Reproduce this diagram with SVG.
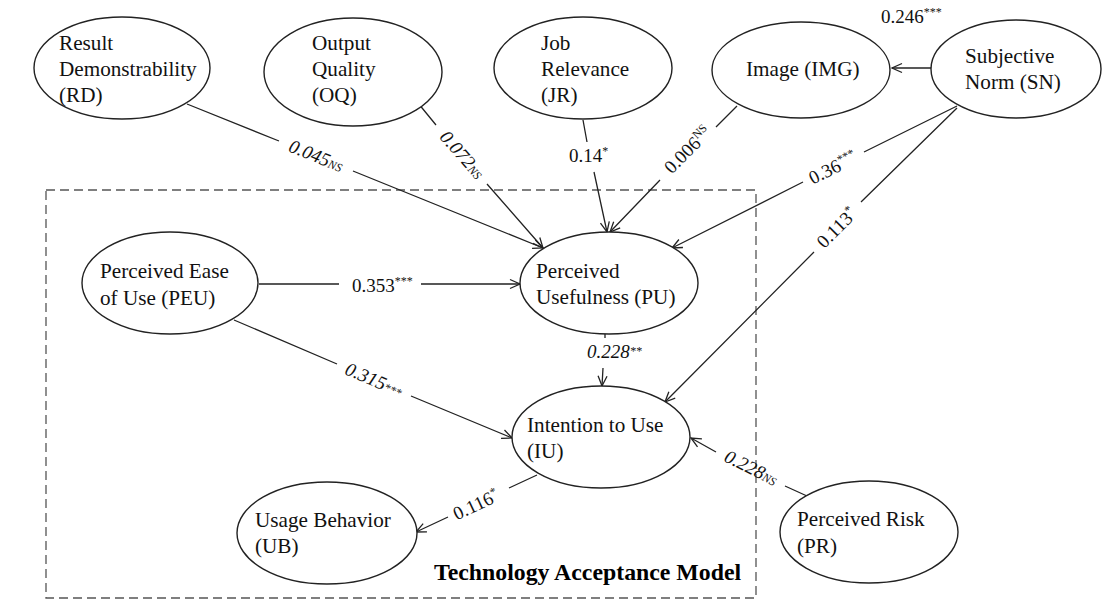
<svg xmlns="http://www.w3.org/2000/svg" width="1108" height="600" viewBox="0 0 1108 600">
  <defs>
    <marker id="arrow" markerUnits="userSpaceOnUse" markerWidth="14" markerHeight="12" refX="11" refY="6" orient="auto">
      <path d="M1,1.5 L11,6 L1,10.5" fill="none" stroke="#222" stroke-width="1.3"/>
    </marker>
    <style>
      .node ellipse { fill: #fff; stroke: #222; stroke-width: 1.4; }
      .node text { font-family: "Liberation Serif", "Times New Roman", serif; font-size: 21.2px; fill: #111; }
      .edge { fill: none; stroke: #222; stroke-width: 1.3; }
      .lbl { font-family: "Liberation Serif", "Times New Roman", serif; font-size: 19px; fill: #111; }
      .it { font-style: italic; }
      .sup { font-size: 12px; }
      .mid { text-anchor: middle; }
      .frame { fill: none; stroke: #555; stroke-width: 1.3; stroke-dasharray: 9 5; }
      .title { font-family: "Liberation Serif", "Times New Roman", serif; font-size: 23.8px; font-weight: bold; fill: #000; }
    </style>
  </defs>

  <rect fill="#fff" x="0" y="0" width="1108" height="600"/>

  <!-- TAM boundary -->
  <rect class="frame" x="46" y="190" width="710" height="408"/>
  <text class="title" x="434" y="580">Technology Acceptance Model</text>

  <!-- connectors -->
  <g id="connectors">
    <path class="edge" d="M187,104 L279,141 M353,171 L543,248" marker-end="url(#arrow)"/>
    <path class="edge" d="M418,103 L436,125 M487,184 L543,248" marker-end="url(#arrow)"/>
    <path class="edge" d="M583,120 L587,142 M594,172 L607,232" marker-end="url(#arrow)"/>
    <path class="edge" d="M737,106 L716,127 M660,180 L610,232" marker-end="url(#arrow)"/>
    <path class="edge" d="M957,106 L864,152 M803,182 L672,248" marker-end="url(#arrow)"/>
    <path class="edge" d="M957,108 L861,202 M814,252 L665,402" marker-end="url(#arrow)"/>
    <path class="edge" d="M933,68 L892,68" marker-end="url(#arrow)"/>
    <path class="edge" d="M259,284 L339,284 M421,284 L520,284" marker-end="url(#arrow)"/>
    <path class="edge" d="M234,320 L337,364 M411,396 L512,438" marker-end="url(#arrow)"/>
    <path class="edge" d="M605,334 L605,338 M603,368 L602,386" marker-end="url(#arrow)"/>
    <path class="edge" d="M807,496 L785,486 M716,452 L691,438" marker-end="url(#arrow)"/>
    <path class="edge" d="M537,475 L509,488 M448,517 L416,532" marker-end="url(#arrow)"/>

    <!-- path coefficients -->
    <text class="lbl" x="881" y="23">0.246<tspan class="sup" dy="-7">***</tspan></text>
    <text class="lbl" x="352" y="292">0.353<tspan class="sup" dy="-7">***</tspan></text>
    <text class="lbl" x="569" y="162">0.14<tspan class="sup" dy="-7">*</tspan></text>
    <text class="lbl it" x="587" y="358">0.228<tspan class="sup" dy="-3">**</tspan></text>
    <text class="lbl it mid" transform="translate(316,156) rotate(22)" y="6">0.045<tspan class="sup">NS</tspan></text>
    <text class="lbl it mid" transform="translate(462,155) rotate(49)" y="6">0.072<tspan class="sup">NS</tspan></text>
    <text class="lbl mid" transform="translate(688,150) rotate(-45)" y="6">0.006<tspan class="sup" dy="-7">NS</tspan></text>
    <text class="lbl mid" transform="translate(833,168) rotate(-26.5)" y="6">0.36<tspan class="sup" dy="-7">***</tspan></text>
    <text class="lbl mid" transform="translate(837,228) rotate(-45)" y="6">0.113<tspan class="sup" dy="-7">*</tspan></text>
    <text class="lbl it mid" transform="translate(374,380) rotate(23)" y="6">0.315<tspan class="sup">***</tspan></text>
    <text class="lbl mid" transform="translate(476,505) rotate(-25)" y="6">0.116<tspan class="sup" dy="-7">*</tspan></text>
    <text class="lbl it mid" transform="translate(751,468) rotate(26.6)" y="6">0.228<tspan class="sup">NS</tspan></text>
  </g>

  <!-- constructs -->
  <g id="RD" class="node">
    <ellipse cx="122" cy="68" rx="88" ry="51"/>
    <text x="59" y="50">Result</text>
    <text x="59" y="76">Demonstrability</text>
    <text x="59" y="102">(RD)</text>
  </g>
  <g id="OQ" class="node">
    <ellipse cx="353" cy="72" rx="89" ry="54"/>
    <text x="312" y="50">Output</text>
    <text x="312" y="76">Quality</text>
    <text x="312" y="102">(OQ)</text>
  </g>
  <g id="JR" class="node">
    <ellipse cx="583" cy="68" rx="89" ry="51"/>
    <text x="541" y="50">Job</text>
    <text x="541" y="76">Relevance</text>
    <text x="541" y="102">(JR)</text>
  </g>
  <g id="IMG" class="node">
    <ellipse cx="801" cy="70" rx="89" ry="48"/>
    <text x="746" y="76">Image (IMG)</text>
  </g>
  <g id="SN" class="node">
    <ellipse cx="1016" cy="69" rx="85" ry="49"/>
    <text x="965" y="63">Subjective</text>
    <text x="965" y="89">Norm (SN)</text>
  </g>
  <g id="PEU" class="node">
    <ellipse cx="170" cy="283" rx="88" ry="51"/>
    <text x="100" y="278">Perceived Ease</text>
    <text x="100" y="305">of Use (PEU)</text>
  </g>
  <g id="PU" class="node">
    <ellipse cx="609" cy="283" rx="89" ry="51"/>
    <text x="536" y="278">Perceived</text>
    <text x="536" y="304">Usefulness (PU)</text>
  </g>
  <g id="IU" class="node">
    <ellipse cx="601" cy="437" rx="89" ry="51"/>
    <text x="527" y="432">Intention to Use</text>
    <text x="527" y="458">(IU)</text>
  </g>
  <g id="UB" class="node">
    <ellipse cx="327" cy="533" rx="90" ry="51"/>
    <text x="255" y="527">Usage Behavior</text>
    <text x="255" y="553">(UB)</text>
  </g>
  <g id="PR" class="node">
    <ellipse cx="869" cy="532" rx="89" ry="51"/>
    <text x="797" y="526">Perceived Risk</text>
    <text x="797" y="553">(PR)</text>
  </g>
</svg>
